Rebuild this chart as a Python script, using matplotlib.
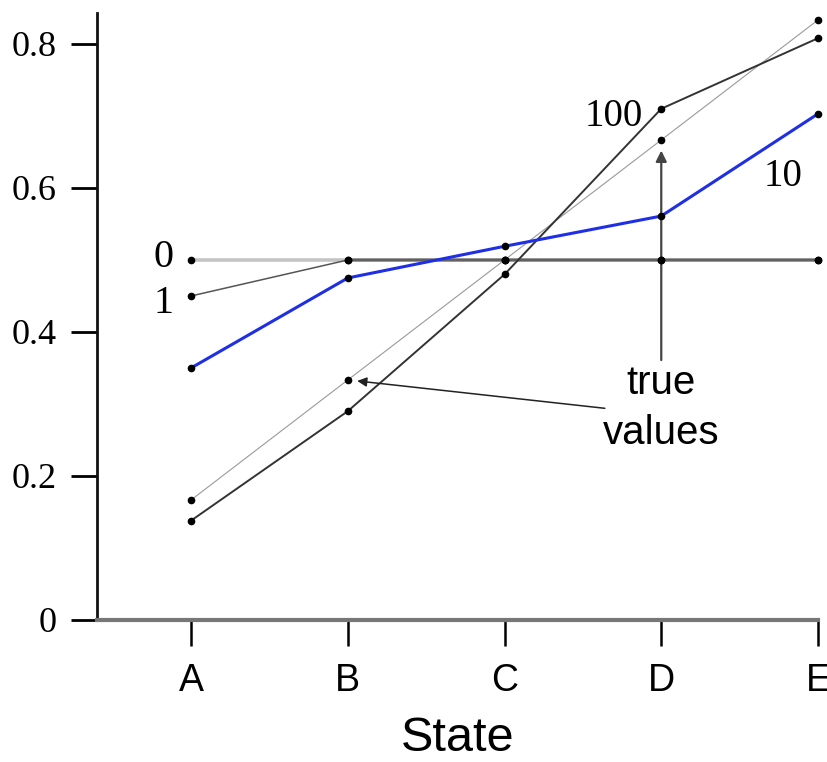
import matplotlib
matplotlib.use("Agg")
import matplotlib.pyplot as plt

states = ["A", "B", "C", "D", "E"]
true_values = [1/6, 2/6, 3/6, 4/6, 5/6]
ep0 = [0.5, 0.5, 0.5, 0.5, 0.5]
ep1 = [0.45, 0.5, 0.5, 0.5, 0.5]
ep10 = [0.35, 0.475, 0.519, 0.561, 0.703]
ep100 = [0.138, 0.290, 0.480, 0.710, 0.808]
yticks = [0, 0.2, 0.4, 0.6, 0.8]
ytick_labels = ["0", "0.2", "0.4", "0.6", "0.8"]

fig = plt.figure(figsize=(8.27, 7.62), dpi=100)
ax = fig.add_axes([97/827, (762-620)/762, 721/827, (620-13)/762])
x = list(range(len(states)))

ax.plot(x, ep0, color="#c4c4c4", lw=2.6, zorder=2, clip_on=False)
ax.plot(x[1:], ep1[1:], color="#8a8a8a", lw=2.6, zorder=2.5, clip_on=False)
ax.plot(x, ep1, color="#555555", lw=1.1, zorder=3, clip_on=False)
ax.plot(x, true_values, color="#9a9a9a", lw=0.8, zorder=3, clip_on=False)
ax.plot(x, ep100, color="#333333", lw=1.4, zorder=3, clip_on=False)
ax.plot(x, ep10, color="#1f2fe6", lw=2.2, zorder=4, clip_on=False)
for s in (ep0, ep1, true_values, ep100, ep10):
    ax.plot(x, s, ls="none", marker="o", ms=4.5, color="black", zorder=6, clip_on=False)

# annotations
serif = "Liberation Serif"
sans = "Liberation Sans"
ax.text(-0.115, ep0[0] + 0.003, "0", fontsize=29, family=serif, ha="right", va="center")
ax.text(-0.115, ep1[0] - 0.01, "1", fontsize=29, family=serif, ha="right", va="center")
ax.text(2.7, 0.699, "100", fontsize=28, family=serif, ha="center", va="center")
ax.text(3.78, 0.616, "10", fontsize=28, family=serif, ha="center", va="center")
ax.text(3.0, 0.329, "true", fontsize=29, family=sans, ha="center", va="center")
ax.text(3.0, 0.260, "values", fontsize=29, family=sans, ha="center", va="center")

ax.annotate("", xy=(1.06, 0.332), xytext=(2.64, 0.294),
            arrowprops=dict(arrowstyle="-|>", color="#222222", lw=1.1,
                            mutation_scale=14, shrinkA=0, shrinkB=0))
ax.annotate("", xy=(3.0, 0.652), xytext=(3.0, 0.361),
            arrowprops=dict(arrowstyle="-|>", color="#444444", lw=1.6,
                            mutation_scale=16, shrinkA=0, shrinkB=0))

ax.set_xlim(-0.6, 4.0)
ax.set_ylim(0, 0.843)
ax.set_xticks(x)
ax.set_xticklabels(states, family=sans, fontsize=27)
ax.set_yticks(yticks)
ax.set_yticklabels(ytick_labels, family=serif, fontsize=26)
ax.tick_params(axis="both", direction="out", length=19, width=2, colors="black", pad=10)
ax.tick_params(axis="x", width=1.8, pad=12)
ax.set_xlabel("State", family=sans, fontsize=35, labelpad=12)

for side in ("top", "right"):
    ax.spines[side].set_visible(False)
ax.spines["left"].set_linewidth(2)
ax.spines["left"].set_color("#111111")
ax.spines["bottom"].set_linewidth(3)
ax.spines["bottom"].set_color("#777777")

fig.savefig("out.png", dpi=100)
